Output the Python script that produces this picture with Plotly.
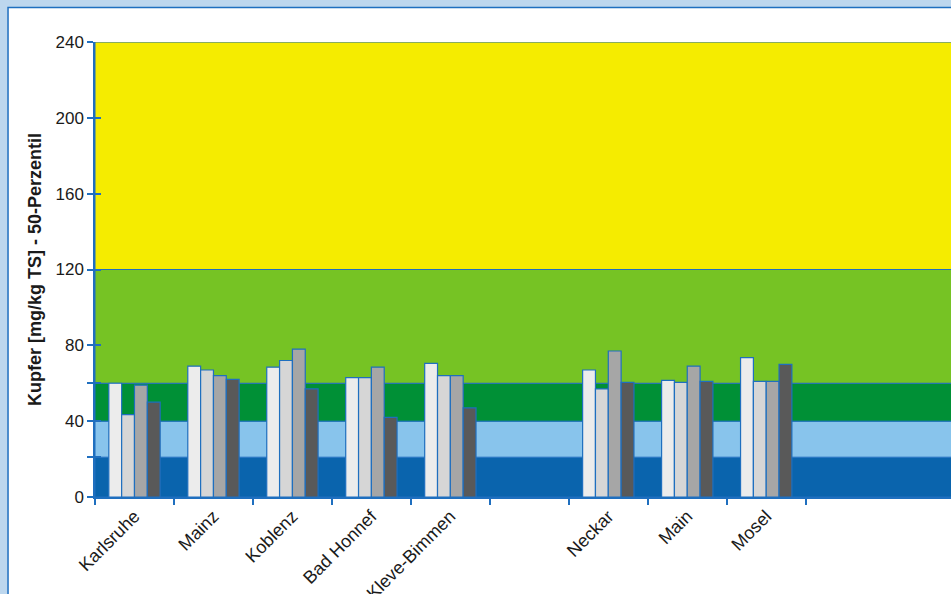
import plotly.graph_objects as go

categories = ["Karlsruhe", "Mainz", "Koblenz", "Bad Honnef", "Kleve-Bimmen", " ", "Neckar", "Main", "Mosel"]
series_a = [60, 69, 68.5, 63, 70.5, None, 67, 61.5, 73.5]
series_b = [43.5, 67, 72, 63, 64, None, 57, 60.5, 61]
series_c = [59, 64, 78, 68.5, 64, None, 77, 69, 61]
series_d = [50, 62, 57, 42, 47, None, 60.5, 61, 70]
series_colors = ["#ececec", "#d6d6d6", "#a6a6a6", "#595959"]

band_limits = [0, 21, 40, 60, 120, 240]
band_colors = ["#0a64ad", "#88c4ec", "#009036", "#76c324", "#f5ec00"]

y_tickvals = [0, 21, 40, 60, 80, 120, 160, 200, 240]
y_ticktext = ["0", "", "40", "", "80", "120", "160", "200", "240"]

BLUE = "#1f6fbf"
FONT = "Liberation Sans, Arial, sans-serif"

fig = go.Figure()
for vals, col in zip([series_a, series_b, series_c, series_d], series_colors):
    fig.add_trace(go.Bar(x=categories, y=vals, marker=dict(color=col, line=dict(color=BLUE, width=1.2)),
                         showlegend=False, hoverinfo="skip"))

# outer white panel
fig.add_shape(type="rect", xref="paper", yref="paper", x0=-0.1016, x1=1.2, y0=-0.5, y1=1.0758,
              fillcolor="white", line=dict(color=BLUE, width=1.5), layer="below")

for i, col in enumerate(band_colors):
    fig.add_shape(type="rect", xref="paper", yref="y", x0=0, x1=1.05,
                  y0=band_limits[i], y1=band_limits[i + 1], fillcolor=col,
                  line=dict(color=BLUE, width=1), layer="below")

fig.update_layout(
    width=951, height=594,
    margin=dict(l=95, r=0, t=42, b=97),
    paper_bgcolor="#bdd7ee", plot_bgcolor="white",
    barmode="group", bargap=0.35, bargroupgap=0,
    font=dict(family=FONT, color="#1a1a1a"),
    xaxis=dict(type="category", range=[-0.5, 10.34], tickson="boundaries", ticks="outside",
               ticklen=6, tickcolor=BLUE, tickwidth=1.5, showgrid=False, showline=True,
               linecolor=BLUE, linewidth=1.5, tickangle=-45, tickfont=dict(size=18),
               automargin=False),
    yaxis=dict(range=[0, 240], tickvals=y_tickvals, ticktext=y_ticktext, ticks="outside",
               ticklen=6, tickcolor=BLUE, tickwidth=1.5, showgrid=False, zeroline=False,
               showline=True, linecolor=BLUE, linewidth=1.5, tickfont=dict(size=17),
               automargin=False,
               title=dict(text="<b>Kupfer [mg/kg TS] - 50-Perzentil</b>", font=dict(size=18), standoff=9)),
    yaxis2=dict(range=[0, 240], overlaying="y", side="left", tickvals=y_tickvals, ticks="inside",
                ticklen=6, tickcolor=BLUE, tickwidth=1.5, showticklabels=False, showgrid=False,
                zeroline=False, showline=False, automargin=False),
)
fig.add_trace(go.Scatter(x=[categories[0]], y=[None], yaxis="y2", showlegend=False, hoverinfo="skip"))

fig.write_html("out.html", config={"displayModeBar": False},
               post_script="document.body.style.margin='0';document.body.style.overflow='hidden';")
